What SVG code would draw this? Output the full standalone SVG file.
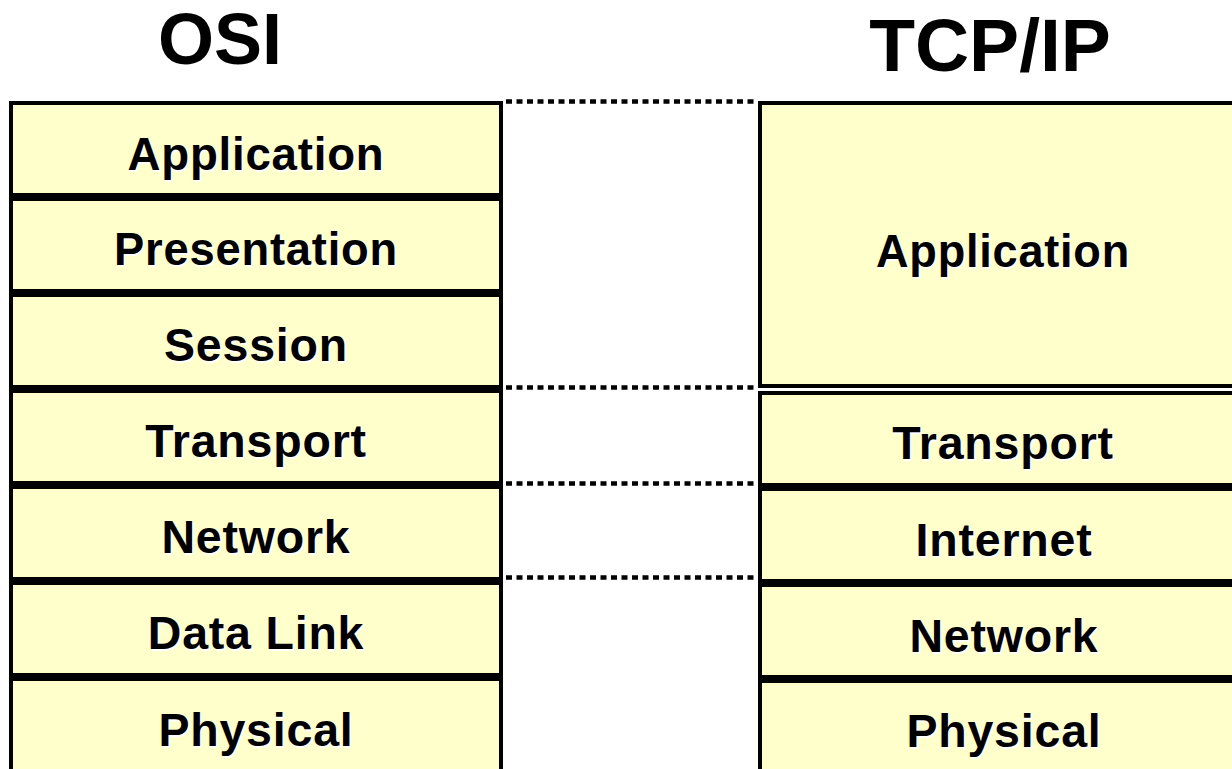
<svg xmlns="http://www.w3.org/2000/svg" width="1232" height="769" viewBox="0 0 1232 769">
<style>
.box{fill:#FFFFCC;stroke:#000;stroke-width:4}
.lbl{font-family:"Liberation Sans",Arial,sans-serif;font-weight:bold;font-size:46.5px;letter-spacing:0.8px;text-anchor:middle}
.sh{fill:#fff}
.tx{fill:#000}
.title{font-family:"Liberation Sans",Arial,sans-serif;font-weight:bold;text-anchor:middle;fill:#000}
.dot{stroke:#000;stroke-width:4.5;stroke-dasharray:6 4.5;fill:none}
</style>
<rect width="1232" height="769" fill="#fff"/>
<g id="titles">
<text class="title" x="220" y="64" font-size="72">OSI</text>
<text class="title" x="990" y="71" font-size="75">TCP/IP</text>
</g>
<g id="connectors">
<line class="dot" x1="506" y1="101.5" x2="755" y2="101.5"/>
<line class="dot" x1="506" y1="387.5" x2="755" y2="387.5"/>
<line class="dot" x1="506" y1="483.5" x2="755" y2="483.5"/>
<line class="dot" x1="506" y1="577.5" x2="755" y2="577.5"/>
</g>
<g id="osi-application"><rect class="box" x="11" y="103" width="490" height="92"/>
<text class="lbl sh" x="257.5" y="171.5" textLength="257" lengthAdjust="spacingAndGlyphs">Application</text>
<text class="lbl tx" x="256" y="170" textLength="257" lengthAdjust="spacingAndGlyphs">Application</text></g>
<g id="osi-presentation"><rect class="box" x="11" y="199" width="490" height="92"/>
<text class="lbl sh" x="257.5" y="266.5" textLength="284" lengthAdjust="spacingAndGlyphs">Presentation</text>
<text class="lbl tx" x="256" y="265" textLength="284" lengthAdjust="spacingAndGlyphs">Presentation</text></g>
<g id="osi-session"><rect class="box" x="11" y="295" width="490" height="92"/>
<text class="lbl sh" x="257.5" y="362.5">Session</text>
<text class="lbl tx" x="256" y="361">Session</text></g>
<g id="osi-transport"><rect class="box" x="11" y="391" width="490" height="92"/>
<text class="lbl sh" x="257.5" y="458.5">Transport</text>
<text class="lbl tx" x="256" y="457">Transport</text></g>
<g id="osi-network"><rect class="box" x="11" y="487" width="490" height="92"/>
<text class="lbl sh" x="257.5" y="554.5">Network</text>
<text class="lbl tx" x="256" y="553">Network</text></g>
<g id="osi-datalink"><rect class="box" x="11" y="583" width="490" height="92"/>
<text class="lbl sh" x="257.5" y="650.5">Data Link</text>
<text class="lbl tx" x="256" y="649">Data Link</text></g>
<g id="osi-physical"><rect class="box" x="11" y="679" width="490" height="110"/>
<text class="lbl sh" x="257.5" y="747.5">Physical</text>
<text class="lbl tx" x="256" y="746">Physical</text></g>
<g id="tcp-application"><rect class="box" x="760" y="103" width="500" height="283"/>
<text class="lbl sh" x="1004.5" y="268.5" textLength="254" lengthAdjust="spacingAndGlyphs">Application</text>
<text class="lbl tx" x="1003" y="267" textLength="254" lengthAdjust="spacingAndGlyphs">Application</text></g>
<g id="tcp-transport"><rect class="box" x="760" y="393" width="500" height="92"/>
<text class="lbl sh" x="1004.5" y="460.5">Transport</text>
<text class="lbl tx" x="1003" y="459">Transport</text></g>
<g id="tcp-internet"><rect class="box" x="760" y="489" width="500" height="92"/>
<text class="lbl sh" x="1005.5" y="557.5">Internet</text>
<text class="lbl tx" x="1004" y="556">Internet</text></g>
<g id="tcp-network"><rect class="box" x="760" y="585" width="500" height="92"/>
<text class="lbl sh" x="1005.5" y="653.5">Network</text>
<text class="lbl tx" x="1004" y="652">Network</text></g>
<g id="tcp-physical"><rect class="box" x="760" y="681" width="500" height="110"/>
<text class="lbl sh" x="1005.5" y="748.5">Physical</text>
<text class="lbl tx" x="1004" y="747">Physical</text></g>
</svg>
